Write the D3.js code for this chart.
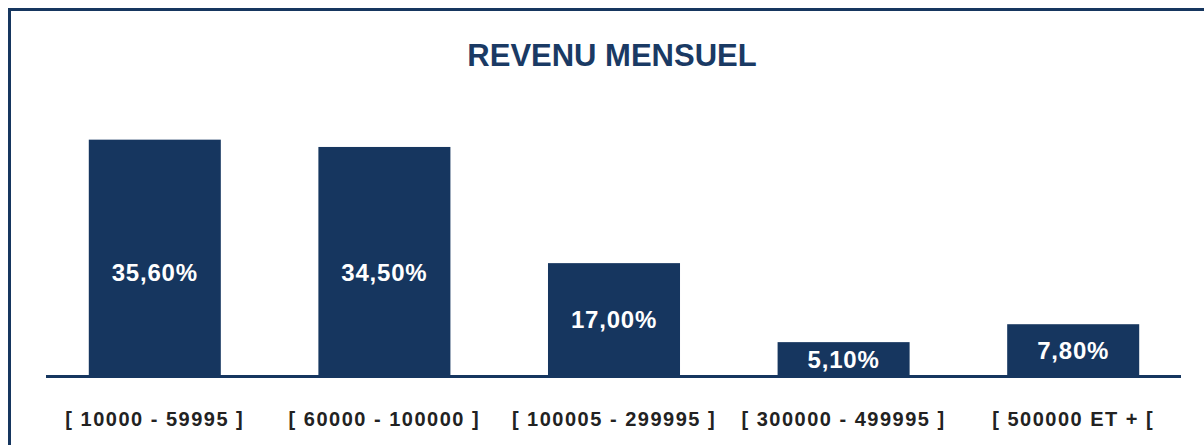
<!DOCTYPE html>
<html>
<head>
<meta charset="utf-8">
<script src="https://cdn.jsdelivr.net/npm/d3@7"></script>
<style>
  html, body { margin: 0; padding: 0; background: #ffffff; }
  svg { display: block; }
</style>
</head>
<body>
<div id="chart"></div>
<script>
// data
var Categories = ["[ 10000 - 59995 ]", "[ 60000 - 100000 ]", "[ 100005 - 299995 ]", "[ 300000 - 499995 ]", "[ 500000 ET + ["];
var Values = [35.6, 34.5, 17.0, 5.1, 7.8];
var ValueLabels = ["35,60%", "34,50%", "17,00%", "5,10%", "7,80%"];
var Title = "REVENU MENSUEL";

var Width = 1204;
var Height = 445;
var Navy = "#16365f";

var Canvas = d3.select("#chart").append("svg")
    .attr("width", Width)
    .attr("height", Height);

// outer frame (runs off the right and bottom edges like the original)
Canvas.append("rect")
    .attr("x", 9.5)
    .attr("y", 9.5)
    .attr("width", Width + 20)
    .attr("height", Height + 20)
    .attr("fill", "#ffffff")
    .attr("stroke", Navy)
    .attr("stroke-width", 3);

Canvas.append("text")
    .attr("x", 612)
    .attr("y", 66)
    .attr("text-anchor", "middle")
    .attr("font-family", "'Liberation Sans', Arial, sans-serif")
    .attr("font-weight", "bold")
    .attr("font-size", 31)
    .attr("fill", "#1a3a64")
    .text(Title);

var Baseline = 376;

var XScale = d3.scaleBand()
    .domain(Categories)
    .range([40, 1188])
    .paddingInner(0.425)
    .paddingOuter(0.2125);

var YScale = d3.scaleLinear()
    .domain([0, 36])
    .range([Baseline, 137]);

var Rows = Categories.map((c, i) => ({ Cat: c, Value: Values[i], Label: ValueLabels[i] }));

Canvas.selectAll("rect.bar")
    .data(Rows)
    .enter()
    .append("rect")
    .attr("class", "bar")
    .attr("x", d => XScale(d.Cat))
    .attr("y", d => YScale(d.Value))
    .attr("width", XScale.bandwidth())
    .attr("height", d => Baseline - YScale(d.Value))
    .attr("fill", Navy);

// baseline
Canvas.append("line")
    .attr("x1", 46)
    .attr("x2", 1181)
    .attr("y1", Baseline + 0.5)
    .attr("y2", Baseline + 0.5)
    .attr("stroke", Navy)
    .attr("stroke-width", 3);

// value labels, centred in the bar but never higher than ~104px above the axis
Canvas.selectAll("text.value")
    .data(Rows)
    .enter()
    .append("text")
    .attr("class", "value")
    .attr("x", d => XScale(d.Cat) + XScale.bandwidth() / 2)
    .attr("y", d => Baseline - Math.min((Baseline - YScale(d.Value)) / 2, 104))
    .attr("dy", "0.36em")
    .attr("text-anchor", "middle")
    .attr("font-family", "'Liberation Sans', Arial, sans-serif")
    .attr("font-weight", "bold")
    .attr("font-size", 24)
    .attr("letter-spacing", 0.8)
    .attr("fill", "#ffffff")
    .text(d => d.Label);

// category labels
var BottomAxis = d3.axisBottom(XScale).tickSize(0).tickPadding(0);
var AxisGroup = Canvas.append("g")
    .attr("transform", "translate(0," + Baseline + ")")
    .call(BottomAxis);
AxisGroup.select(".domain").remove();
AxisGroup.selectAll(".tick text")
    .attr("y", 50)
    .attr("dy", 0)
    .attr("font-family", "'Liberation Sans', Arial, sans-serif")
    .attr("font-weight", "bold")
    .attr("font-size", 20)
    .attr("letter-spacing", 1.5)
    .attr("fill", "#222222");
</script>
</body>
</html>
